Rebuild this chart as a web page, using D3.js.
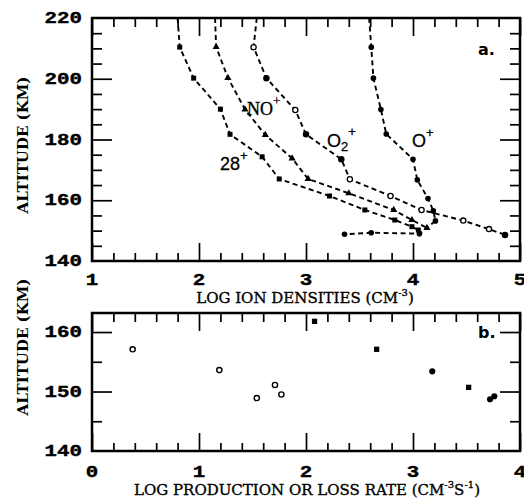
<!DOCTYPE html>
<html><head><meta charset="utf-8">
<script src="https://cdn.jsdelivr.net/npm/d3@7"></script>
<style>body{margin:0;background:#fff}svg{display:block}</style>
</head><body>
<svg id="c" width="524" height="500"></svg>
<script>
// ---- data (top panel: log ion densities vs altitude) ----
const alt28 = [220, 210.4, 200.2, 190.0, 181.7, 174.3, 167.0, 161.4, 156.8, 153.5, 151.3, 150.2];
const den28 = [1.80, 1.82, 1.95, 2.20, 2.29, 2.59, 2.75, 3.22, 3.55, 3.83, 3.99, 4.05];
const altNO = [220, 210.5, 200.3, 189.9, 181.5, 173.8, 167.0, 162.3, 156.8, 153.5, 150.9];
const denNO = [2.15, 2.16, 2.27, 2.43, 2.62, 2.87, 3.02, 3.40, 3.82, 3.99, 4.13];
const altO2 = [220, 210.4, 200.2, 189.7, 181.7, 173.5, 166.9, 161.4, 156.8, 153.3, 150.5, 148.6];
const denO2 = [2.54, 2.51, 2.63, 2.90, 3.00, 3.33, 3.41, 3.79, 4.08, 4.47, 4.71, 4.86];
const altOp = [220, 210.4, 200.2, 189.9, 181.8, 173.5, 166.7, 160.6, 156.5, 153.2, 149.0, 149.3, 148.8];
const denOp = [3.59, 3.61, 3.63, 3.70, 3.75, 4.00, 4.04, 4.14, 4.19, 4.21, 4.06, 3.61, 3.36];
const seriesLabels = ["28", "NO", "O", "O"];
// ---- data (bottom panel: production / loss rates) ----
const prodRate = [0.38, 1.19, 1.54, 1.71, 1.77];
const prodAlt  = [157.1, 153.6, 148.9, 151.1, 149.5];
const lossRate = [2.08, 2.66, 3.18, 3.52, 3.72, 3.76];
const lossAlt  = [161.8, 157.1, 153.4, 150.7, 148.7, 149.2];
// ---- tick labels ----
const topXTicks = [1, 2, 3, 4, 5];
const topYTicks = [140, 160, 180, 200, 220];
const botXTicks = [0, 1, 2, 3, 4];
const botYTicks = [140, 150, 160];

// ---- styles (kept separate from data) ----
const o2Hollow = [0, 1, 0, 1, 0, 0, 1, 1, 1, 1, 1, 0];
const lossShape = ["s", "s", "c", "s", "c", "c"];

const svg = d3.select("#c");
const L = 92, R = 520;
const top1 = 18, bot1 = 261, top2 = 313, bot2 = 451;

const x1 = d3.scaleLinear().domain([1, 5]).range([L, R]);
const y1 = d3.scaleLinear().domain([140, 220]).range([bot1, top1]);
const x2 = d3.scaleLinear().domain([0, 4]).range([L, R]);
const y2 = d3.scaleLinear().domain([140, 163.2]).range([bot2, top2]);

const numFont = "Liberation Mono";
const serif = "DejaVu Serif";

function frame(xs, ys, yt, yb, xMinor, yMajor, yMinor) {
  const g = svg.append("g");
  const mk = (axis, tx, ty, vals, size) => {
    const a = g.append("g").attr("transform", `translate(${tx},${ty})`)
      .call(axis.tickValues(vals).tickSize(size).tickFormat(""));
    a.select(".domain").remove();
    a.selectAll("line").attr("stroke", "#000").attr("stroke-width", 1.7);
  };
  const xMaj = xs.ticks(4);
  mk(d3.axisBottom(xs), 0, yb, xMaj, -18);
  mk(d3.axisBottom(xs), 0, yb, xMinor, -8);
  mk(d3.axisTop(xs), 0, yt, xMaj, -18);
  mk(d3.axisTop(xs), 0, yt, xMinor, -9);
  mk(d3.axisLeft(ys), L, 0, yMajor, -20);
  mk(d3.axisLeft(ys), L, 0, yMinor, -10);
  mk(d3.axisRight(ys), R, 0, yMajor, -20);
  mk(d3.axisRight(ys), R, 0, yMinor, -10);
  g.append("rect").attr("x", L).attr("y", yt).attr("width", R - L).attr("height", yb - yt)
    .attr("fill", "none").attr("stroke", "#000").attr("stroke-width", 2.5);
}

const minor1 = d3.range(1, 5.001, 0.2).map(v => +v.toFixed(1)).filter(v => v % 1 !== 0);
const minor2 = d3.range(0, 4.001, 0.2).map(v => +v.toFixed(1)).filter(v => v % 1 !== 0);
frame(x1, y1, top1, bot1, minor1, [160, 180, 200], d3.range(145, 220, 5).filter(v => v % 20 !== 0));
frame(x2, y2, top2, bot2, minor2, [150, 160], [145, 155]);

function numLabel(x, y, t, anchor) {
  const g = svg.append("g").attr("transform", `translate(${x},${y}) scale(1.3,1)`);
  g.append("text").text(t).attr("text-anchor", anchor || "middle")
    .attr("font-family", numFont).attr("font-weight", "bold").attr("font-size", 16).attr("fill", "#000")
    .attr("stroke", "#000").attr("stroke-width", 0.4);
}
topXTicks.forEach(v => numLabel(x1(v), 285, v));
topYTicks.forEach(v => numLabel(82, y1(v) + 5, v, "end"));
botXTicks.forEach(v => numLabel(x2(v), 477, v));
botYTicks.forEach(v => numLabel(82, y2(v) + 5, v, "end"));

function title(x, y, parts, rot, bold) {
  const t = svg.append("text").attr("font-family", serif).attr("font-size", 15).attr("fill", "#000")
    .attr("text-anchor", "middle").attr("font-weight", bold ? "bold" : "normal")
    .attr("stroke", "#000").attr("stroke-width", bold ? 0 : 0.35)
    .attr("transform", rot ? `translate(${x},${y}) rotate(-90)` : `translate(${x},${y})`);
  parts.forEach(p => {
    const s = t.append("tspan").text(p[0]);
    if (p[1] === "sup") s.attr("font-size", 10).attr("dy", -7);
    if (p[1] === "down") s.attr("dy", 7);
  });
}
title(305, 303, [["LOG ION DENSITIES (CM"], ["-3", "sup"], [")", "down"]]);
title(307, 495, [["LOG PRODUCTION OR LOSS RATE (CM"], ["-3", "sup"], ["S", "down"], ["-1", "sup"], [")", "down"]]);
title(28, 145, [["ALTITUDE (KM)"]], true, true);
title(28, 347, [["ALTITUDE (KM)"]], true, true);

svg.append("text").attr("x", 478).attr("y", 55).text("a.").attr("font-family", "DejaVu Sans")
  .attr("font-weight", "bold").attr("font-size", 16);
svg.append("text").attr("x", 478).attr("y", 338).text("b.").attr("font-family", "DejaVu Sans")
  .attr("font-weight", "bold").attr("font-size", 16);

// ---- curves ----
const line = d3.line().x(d => x1(d.v)).y(d => y1(d.a));
const mkSeries = (den, alt) => den.map((v, i) => ({v, a: alt[i], i}));
const S28 = mkSeries(den28, alt28), SNO = mkSeries(denNO, altNO), SO2 = mkSeries(denO2, altO2), SOp = mkSeries(denOp, altOp);
const curves = svg.append("g");
[S28, SNO, SO2, SOp].forEach(s => {
  curves.append("path").datum(s).attr("d", line).attr("fill", "none").attr("stroke", "#000")
    .attr("stroke-width", 1.9).attr("stroke-dasharray", "5,3.5");
});
const pts = s => s.filter(d => d.a < 220);
curves.selectAll(".sq").data(pts(S28)).join("rect")
  .attr("x", d => x1(d.v) - 2.5).attr("y", d => y1(d.a) - 2.5).attr("width", 5).attr("height", 5).attr("fill", "#000");
curves.selectAll(".tri").data(pts(SNO)).join("path")
  .attr("d", d3.symbol(d3.symbolTriangle, 22)).attr("transform", d => `translate(${x1(d.v)},${y1(d.a)})`).attr("fill", "#000");
curves.selectAll(".o2").data(pts(SO2)).join("circle")
  .attr("cx", d => x1(d.v)).attr("cy", d => y1(d.a)).attr("r", 2.6)
  .attr("fill", d => o2Hollow[d.i] ? "#fff" : "#000").attr("stroke", "#000").attr("stroke-width", 1.3);
curves.selectAll(".op").data(pts(SOp)).join("circle")
  .attr("cx", d => x1(d.v)).attr("cy", d => y1(d.a)).attr("r", 2.8).attr("fill", "#000");

// curve labels
function ionLabel(x, y, base, sub) {
  const t = svg.append("text").attr("x", x).attr("y", y).attr("font-family", base === "NO" ? "Liberation Serif" : "Liberation Sans")
    .attr("font-size", 18).attr("fill", "#000").attr("stroke", "#000").attr("stroke-width", 0.3);
  t.append("tspan").text(base);
  if (sub) t.append("tspan").text(sub).attr("font-size", 13).attr("dy", 4);
  t.append("tspan").text("+").attr("font-size", 13).attr("dy", sub ? -15 : -10);
}
ionLabel(220, 170, seriesLabels[0]);
ionLabel(247, 115, seriesLabels[1]);
ionLabel(327, 147, seriesLabels[2], "2");
ionLabel(412, 147, seriesLabels[3]);

// ---- bottom panel points ----
const P = svg.append("g");
P.selectAll(".p").data(prodRate.map((v, i) => ({v, a: prodAlt[i]}))).join("circle")
  .attr("cx", d => x2(d.v)).attr("cy", d => y2(d.a)).attr("r", 2.6)
  .attr("fill", "#fff").attr("stroke", "#000").attr("stroke-width", 1.4);
const lossPts = lossRate.map((v, i) => ({v, a: lossAlt[i], s: lossShape[i]}));
P.selectAll(".l").data(lossPts).join("path")
  .attr("d", d => d3.symbol(d.s === "s" ? d3.symbolSquare : d3.symbolCircle, d.s === "s" ? 28 : 30)())
  .attr("transform", d => `translate(${x2(d.v)},${y2(d.a)})`).attr("fill", "#000");
</script>
</body></html>
